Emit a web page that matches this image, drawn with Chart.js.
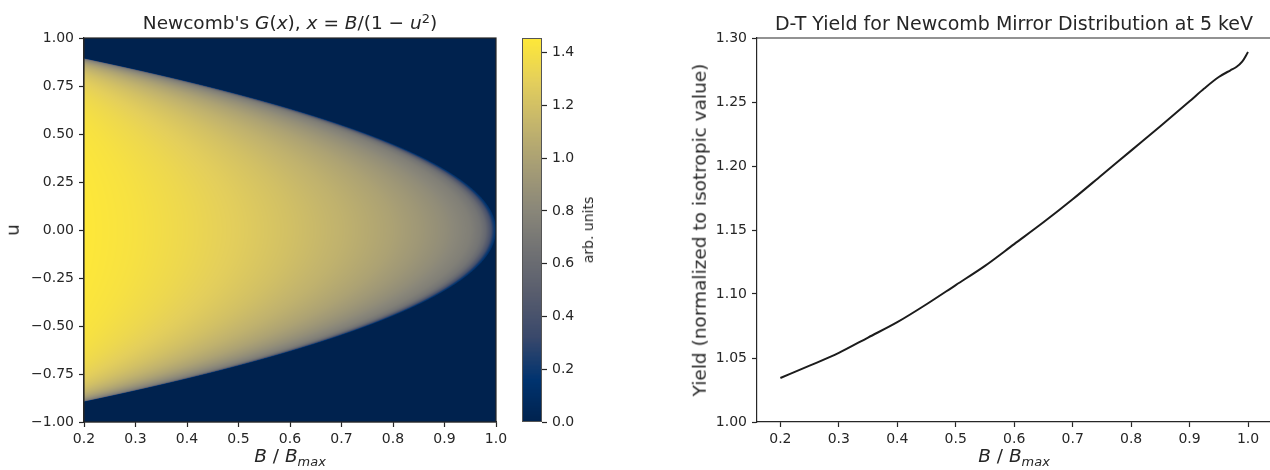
<!DOCTYPE html>
<html><head><meta charset="utf-8">
<script src="https://cdn.jsdelivr.net/npm/chart.js@4.4.1/dist/chart.umd.min.js"></script>
<style>
html,body{margin:0;padding:0;background:#fff;overflow:hidden;width:1270px;height:470px;}
body{position:relative;font-family:"DejaVu Sans",sans-serif;color:#262626;}
canvas{position:absolute;top:0;}
.t{position:absolute;white-space:nowrap;font-size:18.5px;line-height:1;}
.r{transform:translate(-50%,-50%) rotate(-90deg);}
.c{transform:translateX(-50%);}
.sup{font-size:0.7em;position:relative;top:-0.45em;}
.sub{font-size:0.7em;position:relative;top:0.3em;}
</style></head><body>
<canvas id="heat" width="520" height="470" style="left:0"></canvas>
<canvas id="cbar" width="130" height="470" style="left:500px"></canvas>
<canvas id="yield" width="620" height="470" style="left:660px"></canvas>

<div class="t c" style="left:290px;top:14px;font-size:18.5px">Newcomb's <i>G</i>(<i>x</i>), <i>x</i> = <i>B</i>/(1 − <i>u</i><span class="sup">2</span>)</div>
<div class="t c" style="left:290px;top:447px"><i>B</i> / <i>B</i><span class="sub"><i>max</i></span></div>
<div class="t r" style="left:13px;top:230px">u</div>
<div class="t r" style="left:588px;top:230px;font-size:14px">arb. units</div>
<div class="t c" style="left:1014px;top:14px;font-size:19px">D-T Yield for Newcomb Mirror Distribution at 5 keV</div>
<div class="t c" style="left:1014px;top:447px"><i>B</i> / <i>B</i><span class="sub"><i>max</i></span></div>
<div class="t r" style="left:700px;top:230px">Yield (normalized to isotropic value)</div>

<script>
// ---------- data ----------
// Newcomb's G(x) profile read from the heat map / colour bar
const gX   = [0.20, 0.30, 0.40, 0.50, 0.60, 0.70, 0.80, 0.85, 0.90, 0.95, 0.97, 0.98, 0.99, 0.994, 0.998, 1.00];
const gVal = [1.455, 1.41, 1.35, 1.28, 1.20, 1.11, 1.00, 0.93, 0.85, 0.75, 0.67, 0.58, 0.40, 0.26, 0.17, 0.14];
const gMax = 1.455;

// D-T yield vs B/Bmax
const yieldB   = [0.20, 0.25, 0.30, 0.35, 0.40, 0.45, 0.50, 0.55, 0.60, 0.65, 0.70, 0.75, 0.80, 0.85, 0.90, 0.925, 0.95, 0.97, 0.98, 0.99, 1.00];
const yieldVal = [1.0344, 1.044, 1.054, 1.066, 1.078, 1.092, 1.107, 1.122, 1.139, 1.156, 1.174, 1.193, 1.212, 1.231, 1.2505, 1.2605, 1.2695, 1.2748, 1.2773, 1.2815, 1.289];

// tick labels
const heatXTicks = [0.2, 0.3, 0.4, 0.5, 0.6, 0.7, 0.8, 0.9, 1.0];
const heatYTicks = [-1.0, -0.75, -0.5, -0.25, 0.0, 0.25, 0.5, 0.75, 1.0];
const cbarTicks  = [0.0, 0.2, 0.4, 0.6, 0.8, 1.0, 1.2, 1.4];
const yldXTicks  = [0.2, 0.3, 0.4, 0.5, 0.6, 0.7, 0.8, 0.9, 1.0];
const yldYTicks  = [1.00, 1.05, 1.10, 1.15, 1.20, 1.25, 1.30];

// ---------- helpers ----------
const INK = '#262626';
const CIV = [[0,34,78],[0,51,111],[57,72,107],[87,92,109],[112,113,115],[138,135,121],[166,157,117],[196,181,108],[228,207,91],[254,232,56]];
function civRGB(t){
  t = Math.max(0, Math.min(1, t));
  const p = t * (CIV.length - 1);
  const i = Math.min(CIV.length - 2, Math.floor(p));
  const f = p - i, a = CIV[i], b = CIV[i + 1];
  return [a[0] + (b[0] - a[0]) * f, a[1] + (b[1] - a[1]) * f, a[2] + (b[2] - a[2]) * f];
}
const rgbStr = c => 'rgb(' + Math.round(c[0]) + ',' + Math.round(c[1]) + ',' + Math.round(c[2]) + ')';
function gAt(x){
  if (!(x <= gX[gX.length - 1]) || x < 0) return 0;
  if (x <= gX[0]) return gVal[0];
  for (let k = 1; k < gX.length; k++) {
    if (x <= gX[k]) { const f = (x - gX[k - 1]) / (gX[k] - gX[k - 1]); return gVal[k - 1] + f * (gVal[k] - gVal[k - 1]); }
  }
  return 0;
}
const minus = s => s.replace('-', '\u2212');
const font = {family: 'DejaVu Sans', size: 14};
function fixedTicks(list){ return s => { s.ticks = list.map(v => ({value: v})); }; }
function axis(o){
  return Object.assign({
    type: 'linear',
    grid: {display: true, drawOnChartArea: false, drawTicks: true, tickLength: 5, tickColor: INK, tickWidth: 1.2},
    border: {display: true, color: INK, width: 1.2},
    ticks: {color: INK, font: font, padding: 4, maxRotation: 0, autoSkip: false}
  }, o);
}
Chart.defaults.font.family = 'DejaVu Sans';

// ---------- heat map: G(B/(1-u^2)) sampled through the chart's scales ----------
const SS = 3;
const heatPlugin = {
  id: 'heatmap',
  beforeDatasetsDraw(chart){
    const {ctx, chartArea: a, scales: {x, y}} = chart;
    const L = Math.round(a.left), T = Math.round(a.top);
    const W = Math.round(a.right) - L, H = Math.round(a.bottom) - T;
    const bs = new Float64Array(W * SS), us = new Float64Array(H * SS);
    for (let i = 0; i < W * SS; i++) bs[i] = x.getValueForPixel(L + (i + 0.5) / SS);
    for (let j = 0; j < H * SS; j++) us[j] = y.getValueForPixel(T + (j + 0.5) / SS);
    const img = ctx.createImageData(W, H), d = img.data;
    for (let py = 0; py < H; py++) {
      for (let px = 0; px < W; px++) {
        let s = 0;
        for (let q = 0; q < SS; q++) {
          const u = us[py * SS + q], den = 1 - u * u;
          for (let p = 0; p < SS; p++) s += den > 0 ? gAt(bs[px * SS + p] / den) : 0;
        }
        const c = civRGB(s / (SS * SS) / gMax), o = (py * W + px) * 4;
        d[o] = c[0]; d[o + 1] = c[1]; d[o + 2] = c[2]; d[o + 3] = 255;
      }
    }
    ctx.putImageData(img, L, T);
  },
  afterDraw(chart){
    const {ctx, chartArea: a} = chart;
    ctx.save(); ctx.strokeStyle = INK; ctx.lineWidth = 1.2;
    ctx.strokeRect(a.left, a.top, a.right - a.left, a.bottom - a.top);
    ctx.restore();
  }
};
new Chart(document.getElementById('heat'), {
  type: 'scatter',
  data: {datasets: []},
  options: {
    responsive: false, animation: false, events: [],
    layout: {padding: {left: 0, right: 24, top: 38, bottom: 0}},
    plugins: {legend: {display: false}, tooltip: {enabled: false}},
    scales: {
      x: axis({min: 0.2, max: 1.0, afterBuildTicks: fixedTicks(heatXTicks),
        ticks: {color: INK, font: font, padding: 4, maxRotation: 0, autoSkip: false, callback: v => v.toFixed(1)},
        afterFit: s => { s.height = 48; s.paddingLeft = 0; s.paddingRight = 0; }}),
      y: axis({min: -1, max: 1, afterBuildTicks: fixedTicks(heatYTicks),
        ticks: {color: INK, font: font, padding: 5, autoSkip: false, callback: v => minus(v.toFixed(2))},
        afterFit: s => { s.width = 84; s.paddingTop = 0; s.paddingBottom = 0; }})
    }
  },
  plugins: [heatPlugin]
});

// ---------- colour bar ----------
const cbarPlugin = {
  id: 'cbar',
  beforeDatasetsDraw(chart){
    const {ctx, chartArea: a, scales: {y}} = chart;
    const n = 300;
    for (let k = 0; k < n; k++) {
      const v0 = gMax * k / n, v1 = gMax * (k + 1) / n;
      const p0 = y.getPixelForValue(v0), p1 = y.getPixelForValue(v1);
      ctx.fillStyle = rgbStr(civRGB((v0 + v1) / 2 / gMax));
      ctx.fillRect(a.left, Math.floor(p1), a.right - a.left, Math.ceil(p0) - Math.floor(p1));
    }
  },
  afterDraw(chart){
    const {ctx, chartArea: a} = chart;
    ctx.save(); ctx.strokeStyle = '#555'; ctx.lineWidth = 1;
    ctx.strokeRect(a.left + 0.5, a.top + 0.5, a.right - a.left - 1, a.bottom - a.top - 1);
    ctx.restore();
  }
};
new Chart(document.getElementById('cbar'), {
  type: 'scatter',
  data: {datasets: []},
  options: {
    responsive: false, animation: false, events: [],
    layout: {padding: {left: 22, right: 0, top: 38, bottom: 48}},
    plugins: {legend: {display: false}, tooltip: {enabled: false}},
    scales: {
      x: {type: 'linear', display: false, min: 0, max: 1},
      y: axis({position: 'right', min: 0, max: gMax, afterBuildTicks: fixedTicks(cbarTicks),
        border: {display: false},
        ticks: {color: INK, font: font, padding: 5, autoSkip: false, callback: v => v.toFixed(1)},
        afterFit: s => { s.width = 88; s.paddingTop = 0; s.paddingBottom = 0; }})
    }
  },
  plugins: [cbarPlugin]
});

// ---------- yield curve ----------
const topSpine = {
  id: 'topSpine',
  afterDraw(chart){
    const {ctx, chartArea: a} = chart;
    ctx.save(); ctx.strokeStyle = INK; ctx.lineWidth = 1.2;
    ctx.beginPath(); ctx.moveTo(a.left, a.top); ctx.lineTo(a.right + 20, a.top); ctx.stroke();
    ctx.restore();
  }
};
new Chart(document.getElementById('yield'), {
  type: 'line',
  data: {datasets: [{
    data: yieldB.map((b, i) => ({x: b, y: yieldVal[i]})),
    borderColor: '#1c1c1c', borderWidth: 2, pointRadius: 0, fill: false,
    cubicInterpolationMode: 'monotone'
  }]},
  options: {
    responsive: false, animation: false, events: [],
    layout: {padding: {left: 0, right: 8.6, top: 38, bottom: 0}},
    plugins: {legend: {display: false}, tooltip: {enabled: false}},
    scales: {
      x: axis({min: 0.16, max: 1.04, afterBuildTicks: fixedTicks(yldXTicks),
        ticks: {color: INK, font: font, padding: 4, maxRotation: 0, autoSkip: false, callback: v => v.toFixed(1)},
        afterFit: s => { s.height = 48; s.paddingLeft = 0; s.paddingRight = 0; }}),
      y: axis({min: 1.0, max: 1.3, afterBuildTicks: fixedTicks(yldYTicks),
        ticks: {color: INK, font: font, padding: 5, autoSkip: false, callback: v => v.toFixed(2)},
        afterFit: s => { s.width = 97; s.paddingTop = 0; s.paddingBottom = 0; }})
    }
  },
  plugins: [topSpine]
});
</script>
</body></html>
